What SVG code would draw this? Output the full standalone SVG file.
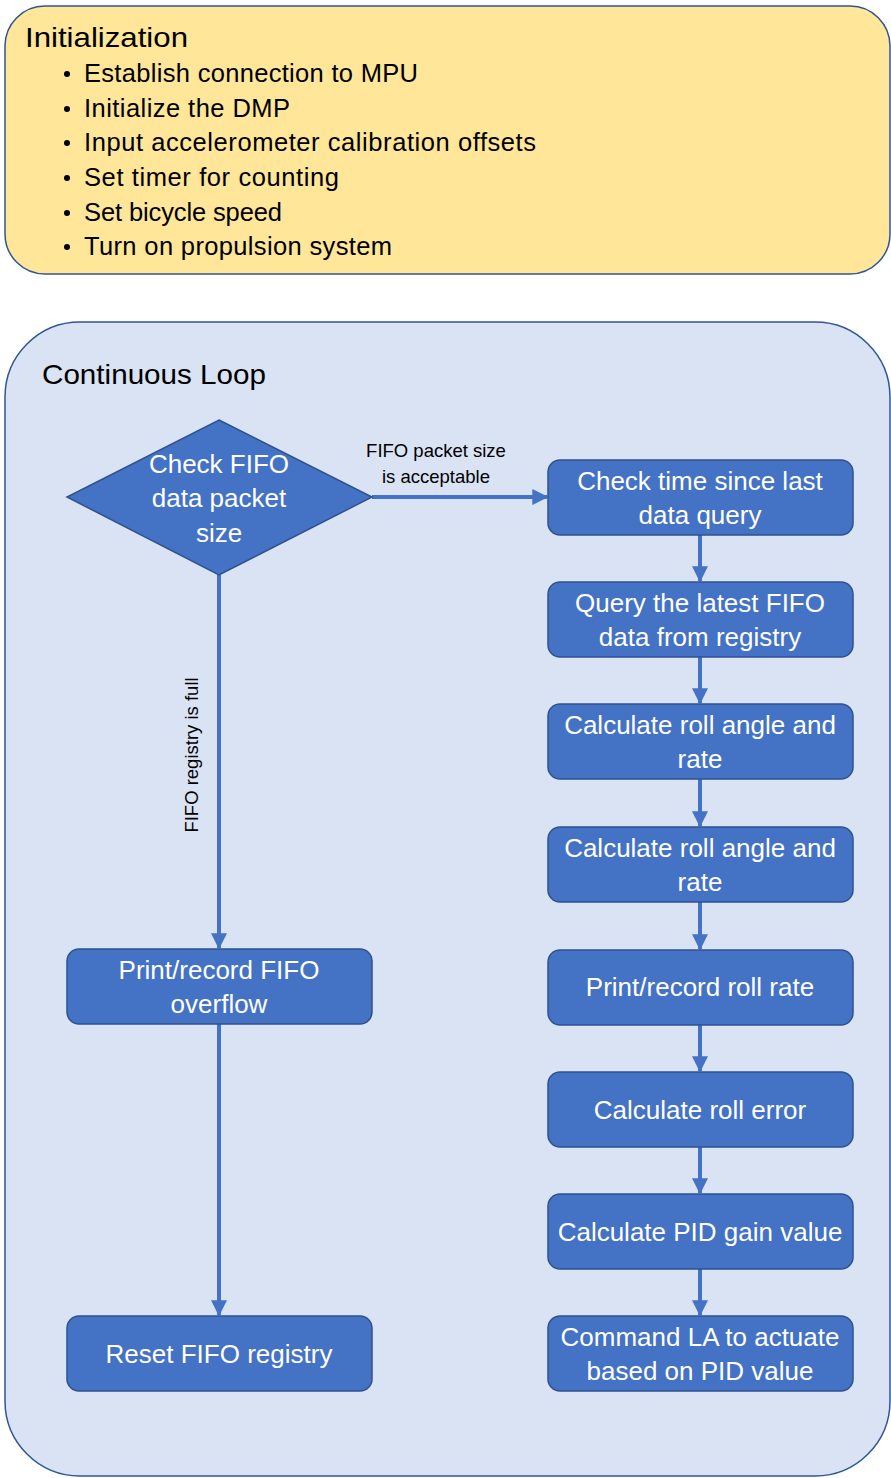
<svg xmlns="http://www.w3.org/2000/svg" width="891" height="1478" viewBox="0 0 891 1478">
  <style>
    .frame-text { font-family: "Liberation Sans", Arial, sans-serif; fill: #000; }
    .node-shape { fill: #4472C4; stroke: #2F528F; stroke-width: 1.5; }
    .node-text { font-family: "Liberation Sans", Arial, sans-serif; font-size: 26px; fill: #fff; text-anchor: middle; }
    .edge { stroke: #4472C4; stroke-width: 4; fill: none; marker-end: url(#arrow); }
    .edge-label { font-family: "Liberation Sans", Arial, sans-serif; font-size: 18.5px; fill: #000; text-anchor: middle; }
  </style>
  <defs>
    <marker id="arrow" viewBox="0 0 12 12" refX="11" refY="6" markerWidth="4" markerHeight="4" markerUnits="strokeWidth" orient="auto">
      <path d="M0,0 L12,6 L0,12 Z" fill="#4472C4"/>
    </marker>
  </defs>

  <!-- Initialization panel -->
  <g id="initialization">
    <rect x="5" y="6" width="885" height="268" rx="40" ry="40" fill="#FFE699" stroke="#2F5597" stroke-width="1.5"/>
    <text class="frame-text" x="25" y="47" font-size="28" textLength="163" lengthAdjust="spacingAndGlyphs">Initialization</text>
    <g class="frame-text" font-size="25.5">
      <circle cx="67" cy="74" r="3" fill="#000"/>
      <text x="84" y="82" textLength="334">Establish connection to MPU</text>
      <circle cx="67" cy="109" r="3" fill="#000"/>
      <text x="84" y="117" textLength="206">Initialize the DMP</text>
      <circle cx="67" cy="143" r="3" fill="#000"/>
      <text x="84" y="151" textLength="452">Input accelerometer calibration offsets</text>
      <circle cx="67" cy="178" r="3" fill="#000"/>
      <text x="84" y="186" textLength="255">Set timer for counting</text>
      <circle cx="67" cy="213" r="3" fill="#000"/>
      <text x="84" y="221" textLength="198">Set bicycle speed</text>
      <circle cx="67" cy="247" r="3" fill="#000"/>
      <text x="84" y="255" textLength="308">Turn on propulsion system</text>
    </g>
  </g>

  <!-- Continuous loop panel -->
  <g id="continuous-loop">
    <rect x="5" y="322" width="885" height="1154" rx="75" ry="75" fill="#DAE3F3" stroke="#2F5597" stroke-width="1.5"/>
    <text class="frame-text" x="42" y="384" font-size="28" textLength="224" lengthAdjust="spacingAndGlyphs">Continuous Loop</text>
  </g>

  <!-- Connectors -->
  <g id="connectors">
    <path class="edge" d="M372,497 L547,497"/>
    <text class="edge-label" x="436" y="457">FIFO packet size</text>
    <text class="edge-label" x="436" y="483">is acceptable</text>

    <path class="edge" d="M219,575 L219,948"/>
    <text class="edge-label" transform="translate(198,755) rotate(-90)">FIFO registry is full</text>
    <path class="edge" d="M219,1024 L219,1315"/>

    <path class="edge" d="M700,535 L700,581"/>
    <path class="edge" d="M700,657 L700,703"/>
    <path class="edge" d="M700,779 L700,826"/>
    <path class="edge" d="M700,902 L700,949"/>
    <path class="edge" d="M700,1025 L700,1071"/>
    <path class="edge" d="M700,1147 L700,1193"/>
    <path class="edge" d="M700,1269 L700,1315"/>
  </g>

  <!-- Decision -->
  <g id="check-fifo-size">
    <polygon class="node-shape" points="219,420 372,497 219,575 67,497"/>
    <text class="node-text" x="219" y="473">Check FIFO</text>
    <text class="node-text" x="219" y="507">data packet</text>
    <text class="node-text" x="219" y="542">size</text>
  </g>

  <!-- Left branch -->
  <g id="record-overflow">
    <rect class="node-shape" x="67" y="949" width="305" height="75" rx="12"/>
    <text class="node-text" x="219" y="979">Print/record FIFO</text>
    <text class="node-text" x="219" y="1013">overflow</text>
  </g>
  <g id="reset-fifo">
    <rect class="node-shape" x="67" y="1316" width="305" height="75" rx="12"/>
    <text class="node-text" x="219" y="1363">Reset FIFO registry</text>
  </g>

  <!-- Right branch -->
  <g id="check-time">
    <rect class="node-shape" x="548" y="460" width="305" height="75" rx="12"/>
    <text class="node-text" x="700" y="490">Check time since last</text>
    <text class="node-text" x="700" y="524">data query</text>
  </g>
  <g id="query-fifo">
    <rect class="node-shape" x="548" y="582" width="305" height="75" rx="12"/>
    <text class="node-text" x="700" y="612">Query the latest FIFO</text>
    <text class="node-text" x="700" y="646">data from registry</text>
  </g>
  <g id="roll-angle-1">
    <rect class="node-shape" x="548" y="704" width="305" height="75" rx="12"/>
    <text class="node-text" x="700" y="734">Calculate roll angle and</text>
    <text class="node-text" x="700" y="768">rate</text>
  </g>
  <g id="roll-angle-2">
    <rect class="node-shape" x="548" y="827" width="305" height="75" rx="12"/>
    <text class="node-text" x="700" y="857">Calculate roll angle and</text>
    <text class="node-text" x="700" y="891">rate</text>
  </g>
  <g id="record-roll-rate">
    <rect class="node-shape" x="548" y="950" width="305" height="75" rx="12"/>
    <text class="node-text" x="700" y="996">Print/record roll rate</text>
  </g>
  <g id="roll-error">
    <rect class="node-shape" x="548" y="1072" width="305" height="75" rx="12"/>
    <text class="node-text" x="700" y="1119">Calculate roll error</text>
  </g>
  <g id="pid-gain">
    <rect class="node-shape" x="548" y="1194" width="305" height="75" rx="12"/>
    <text class="node-text" x="700" y="1241">Calculate PID gain value</text>
  </g>
  <g id="command-actuator">
    <rect class="node-shape" x="548" y="1316" width="305" height="75" rx="12"/>
    <text class="node-text" x="700" y="1346">Command LA to actuate</text>
    <text class="node-text" x="700" y="1380">based on PID value</text>
  </g>
</svg>
